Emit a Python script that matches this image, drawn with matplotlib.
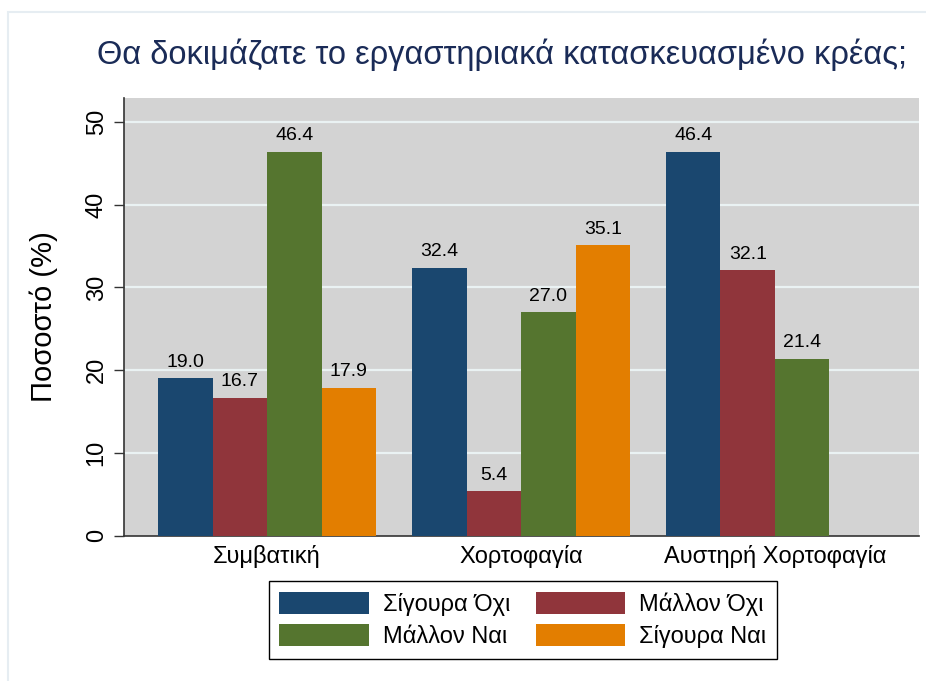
import numpy as np
import matplotlib
matplotlib.use('Agg')
import matplotlib.pyplot as plt
from matplotlib.patches import Rectangle

plt.rcParams['font.family'] = ['Liberation Sans', 'DejaVu Sans']

# data
categories = ['Συμβατική', 'Χορτοφαγία', 'Αυστηρή Χορτοφαγία']
series_names = ['Σίγουρα Όχι', 'Μάλλον Όχι', 'Μάλλον Ναι', 'Σίγουρα Ναι']
sigoura_oxi = [19.0, 32.4, 46.4]
mallon_oxi = [16.7, 5.4, 32.1]
mallon_nai = [46.4, 27.0, 21.4]
sigoura_nai = [17.9, 35.1, np.nan]
yticks = [0, 10, 20, 30, 40, 50]

title = 'Θα δοκιμάζατε το εργαστηριακά κατασκευασμένο κρέας;'
ylabel = 'Ποσοστό (%)'

colors = ['#1a476f', '#90353b', '#55752f', '#e37e00']

fig = plt.figure(figsize=(9.26, 6.81), dpi=100)
# light page frame of the screenshot
fig.patches.append(Rectangle((8/926, -0.1), 1.2, 1 - 12/681 + 0.1, transform=fig.transFigure,
                             fill=False, edgecolor='#e6edf2', linewidth=1.5))

ax = fig.add_axes([124.3/926, 1 - 535.7/681, (919 - 124.3)/926, (535.7 - 98)/681])
ax.set_facecolor('#d3d3d3')

x = np.arange(len(categories))
w = 0.2146
allseries = [sigoura_oxi, mallon_oxi, mallon_nai, sigoura_nai]
handles = []
for i, vals in enumerate(allseries):
    vals = np.array(vals, dtype=float)
    pos = x + (i - 1.5)*w
    b = ax.bar(pos, vals, width=w, color=colors[i], label=series_names[i], zorder=3)
    handles.append(b)
    for p, v in zip(pos, vals):
        if not np.isnan(v):
            ax.text(p, v + 0.9, f'{v:.1f}', ha='center', va='bottom', fontsize=14, zorder=4)

ax.set_xlim(-0.562, 2.567)
ax.set_ylim(0, 52.9)
ax.set_yticks(yticks)
ax.set_yticklabels([str(t) for t in yticks], rotation=90, va='center', fontsize=17)
for t in yticks[1:]:
    ax.axhline(t, color='#eaf2f3', linewidth=1.6, zorder=1)
ax.set_xticks(x)
ax.set_xticklabels(categories, fontsize=17)
ax.tick_params(axis='x', length=0, pad=7)
ax.tick_params(axis='y', length=7, width=1, color='#333333', pad=5)
for s in ['top', 'right']:
    ax.spines[s].set_visible(False)
for s in ['left', 'bottom']:
    ax.spines[s].set_color('#333333')
    ax.spines[s].set_linewidth(1.2)
ax.set_ylabel(ylabel, fontsize=21, labelpad=20)

fig.text(501.5/926, 1 - 55/681, title, ha='center', va='center', fontsize=23.5, color='#1a2b57')

order = [0, 2, 1, 3]
leg = fig.legend([handles[i] for i in order], [series_names[i] for i in order], ncol=2,
                 loc='center', bbox_to_anchor=(523/926, 1 - 620/681), fontsize=17,
                 handlelength=3.8, handleheight=1.05, columnspacing=1.05, handletextpad=0.6,
                 labelspacing=0.35, fancybox=False, edgecolor='black', framealpha=1,
                 borderpad=0.45, borderaxespad=0)
leg.get_frame().set_linewidth(1.0)

fig.savefig('out.png', dpi=100)
